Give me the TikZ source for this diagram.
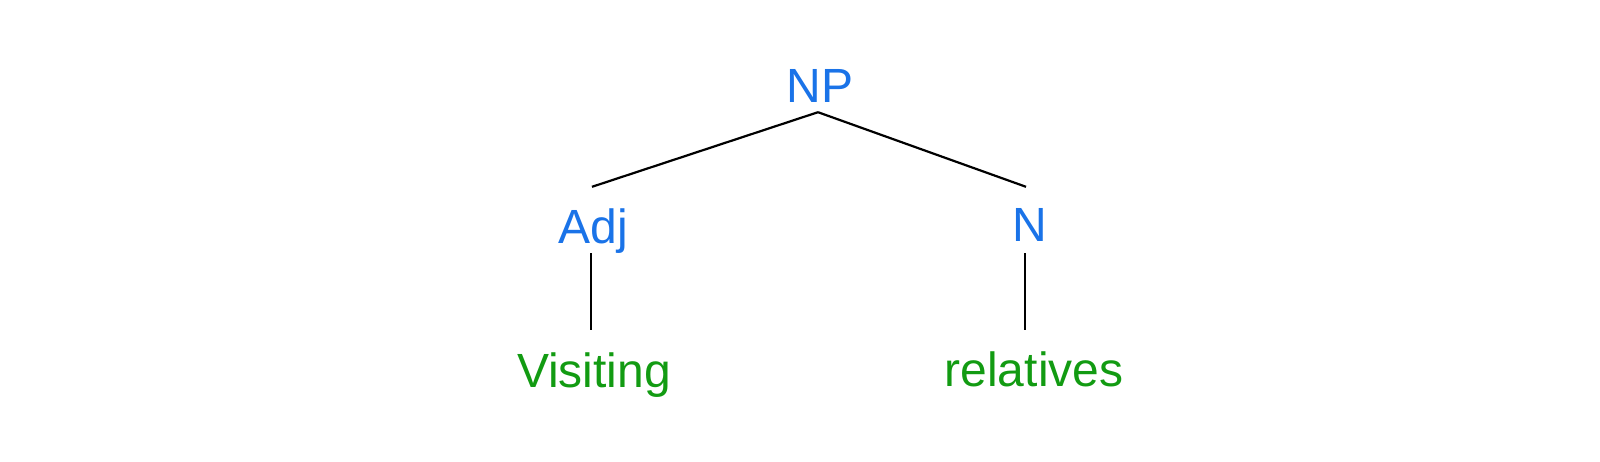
\documentclass[tikz,border=0pt]{standalone}
\usepackage{fontspec}
\setmainfont{Liberation Sans}
\definecolor{catblue}{RGB}{26,115,232}
\definecolor{wordgreen}{RGB}{18,155,18}
\begin{document}
\begin{tikzpicture}[x=1pt,y=-1pt,
  lbl/.style={anchor=base,inner sep=0pt,text height=35pt,text depth=10pt,font=\fontsize{48}{58}\selectfont},
  cat/.style={lbl,text=catblue},
  word/.style={lbl,text=wordgreen},
  edge/.style={line width=2.2pt,black}]
\useasboundingbox (0,0) rectangle (1600,461);
\node[cat] (np) at (820,102) {NP};
\node[cat] (adj) at (593,243) {Adj};
\node[cat] (n) at (1030,241) {N};
\node[word] (visiting) at (594,387) {Visiting};
\node[word] (relatives) at (1034,386) {relatives};
\draw[edge] ([xshift=-2pt]np.south) -- ([xshift=-1pt,yshift=21pt]adj.north);
\draw[edge] ([xshift=-2pt]np.south) -- ([xshift=-4pt,yshift=19pt]n.north);
\draw[edge] ([xshift=-2pt]adj.south) -- ([xshift=-3pt,yshift=22pt]visiting.north);
\draw[edge] ([xshift=-5pt,yshift=-2pt]n.south) -- ([xshift=-9pt,yshift=21pt]relatives.north);
\end{tikzpicture}
\end{document}
